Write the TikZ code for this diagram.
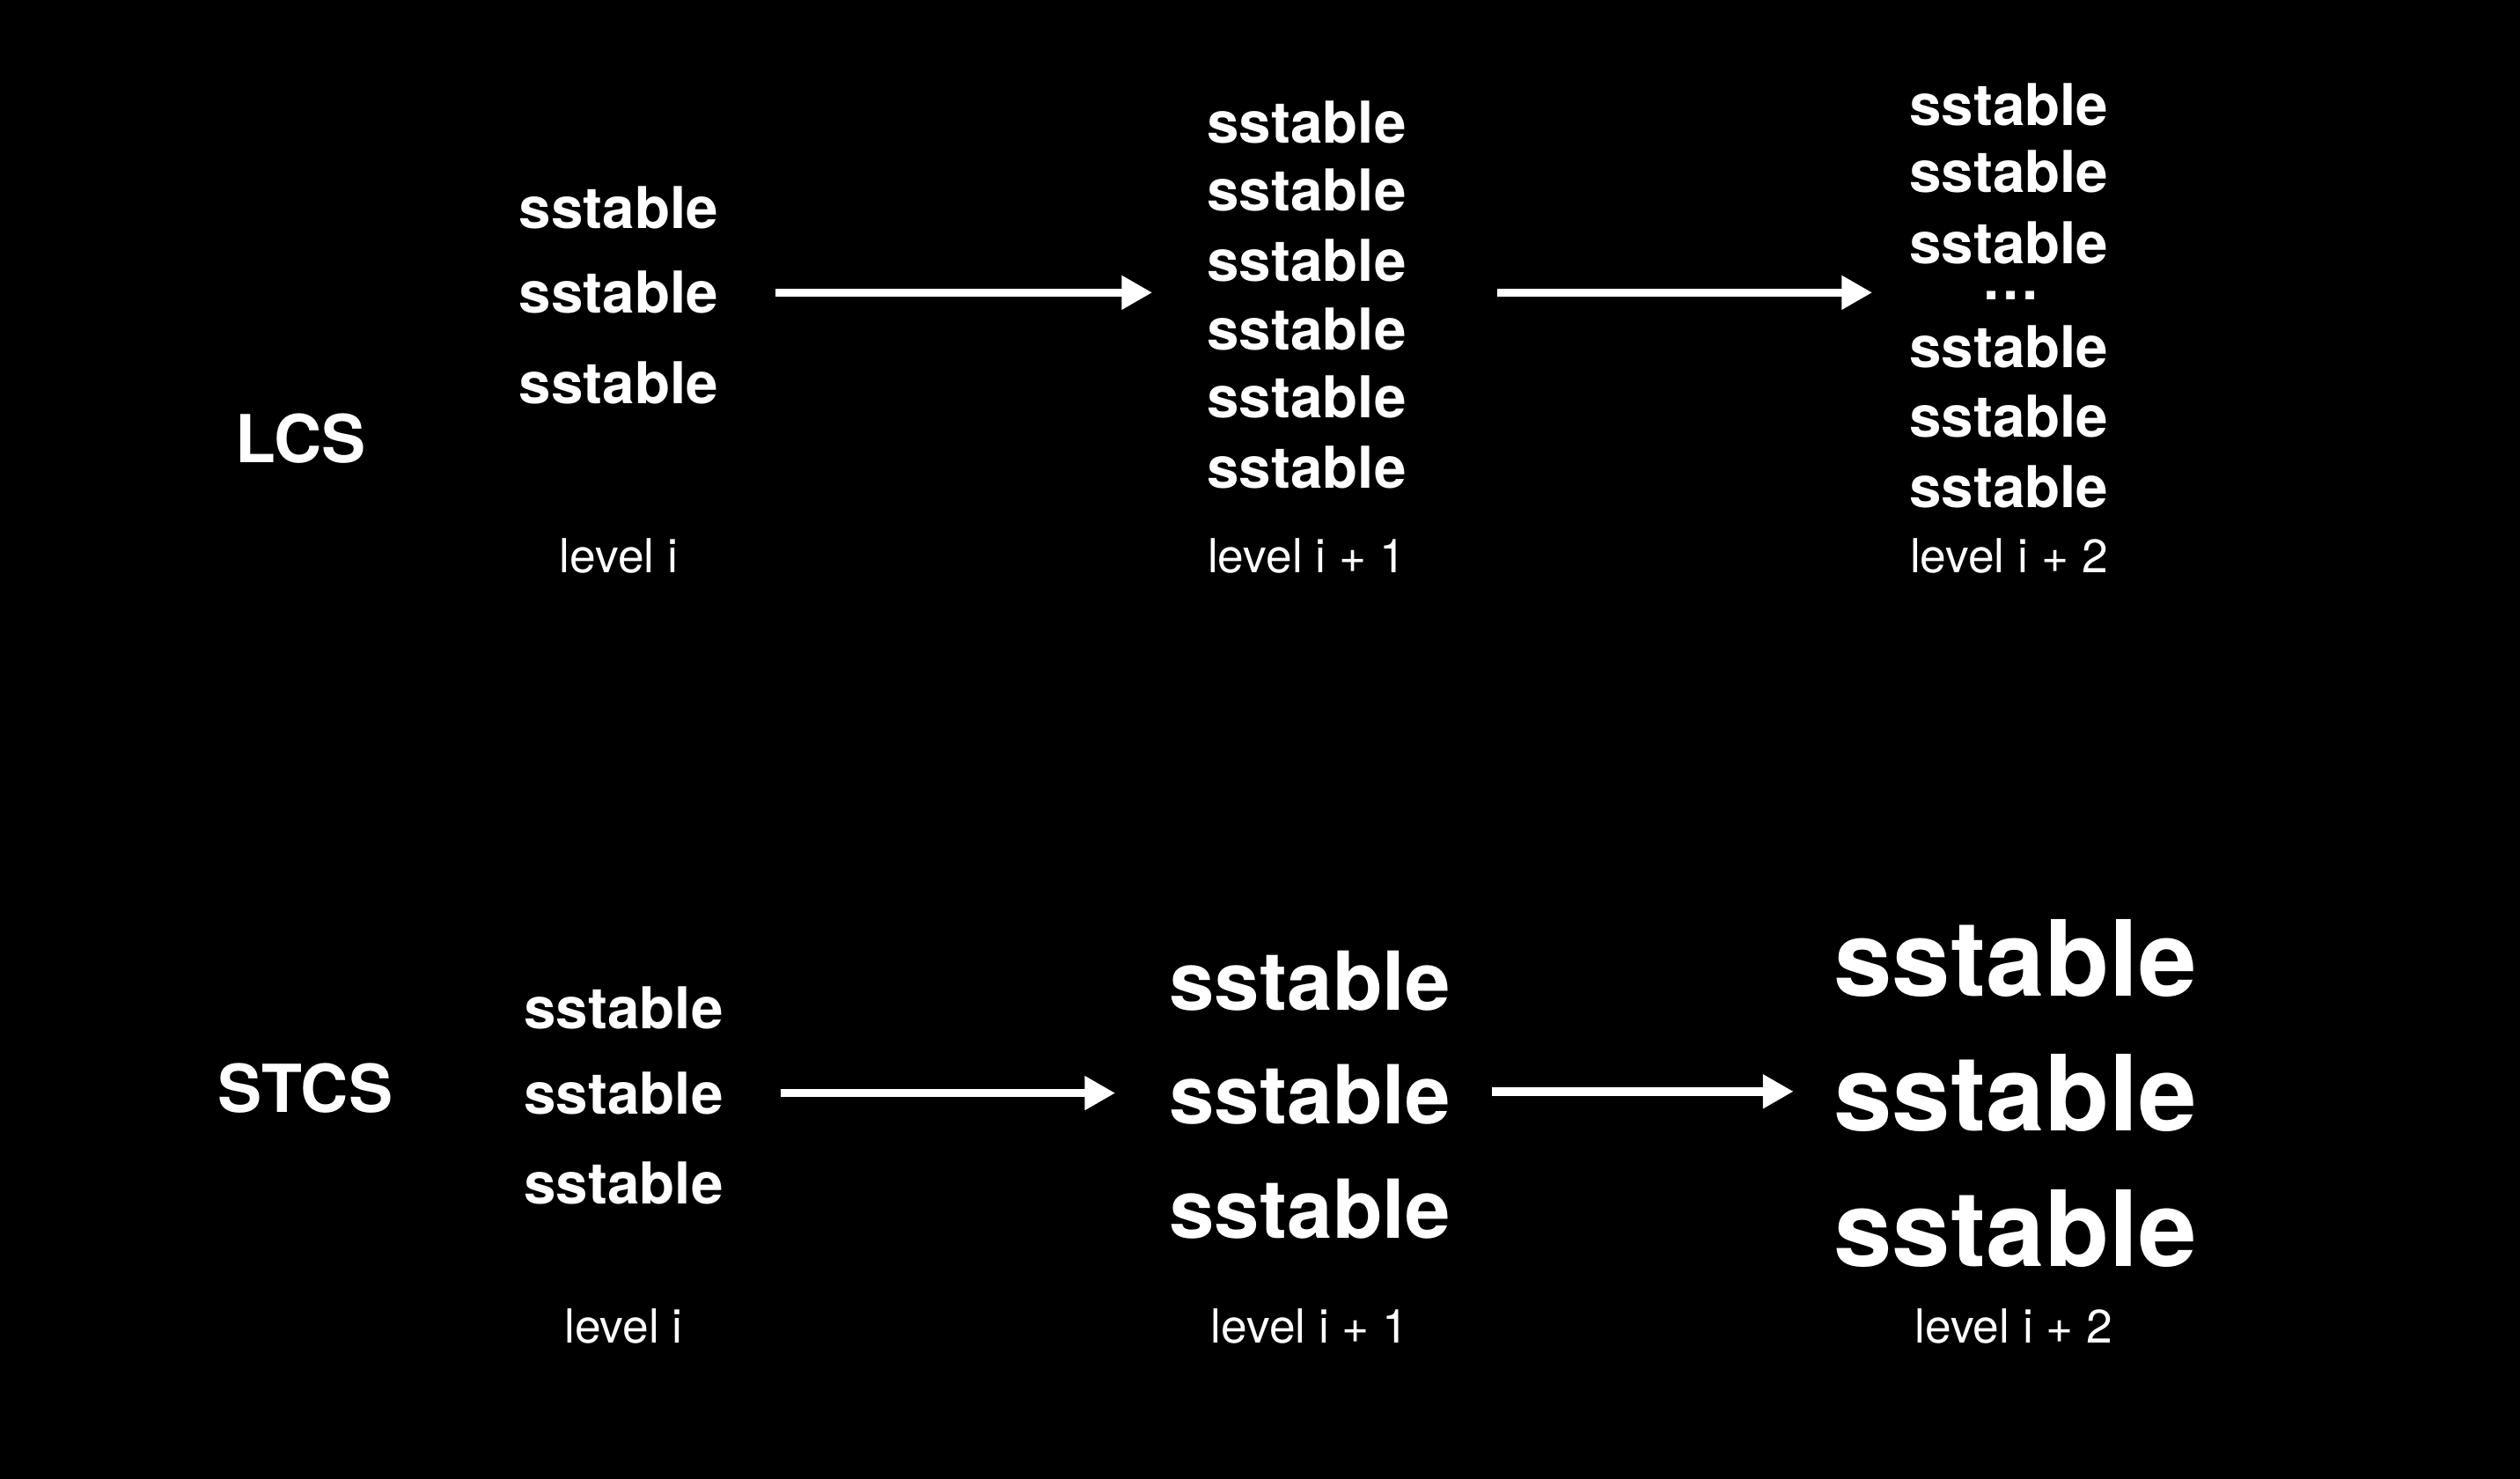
\documentclass[tikz,border=0pt]{standalone}
\usepackage{fontspec}
\setmainfont{TeX Gyre Heros}
\usetikzlibrary{arrows.meta}

\tikzset{
  tbl/.style={text=white, inner sep=0pt, font=\bfseries\fontsize{10.2}{12}\selectfont},
  tblmid/.style={tbl, font=\bfseries\fontsize{14.4}{17}\selectfont},
  tblbig/.style={tbl, font=\bfseries\fontsize{18.6}{22}\selectfont},
  strat/.style={text=white, inner sep=0pt, font=\bfseries\fontsize{11.7}{14}\selectfont},
  lvl/.style={text=white, inner sep=0pt, font=\fontsize{8.3}{10}\selectfont},
  flow/.style={draw=white, line width=1.5pt, -{Triangle[length=0.19cm,width=0.2cm]}}
}

\begin{document}
\begin{tikzpicture}[x=0.01cm,y=-0.01cm]
  \fill[black] (0,0) rectangle (1568,920);

  % LCS
  \node[strat] (lcs) at (187,273) {LCS};

  \node[tbl] (La1) at (385,129) {sstable};
  \node[tbl] (La2) at (385,182) {sstable};
  \node[tbl] (La3) at (385,238) {sstable};
  \node[lvl] (La)  at (385,346) {level i};

  \node[tbl] (Lb1) at (813,76)  {sstable};
  \node[tbl] (Lb2) at (813,118) {sstable};
  \node[tbl] (Lb3) at (813,162) {sstable};
  \node[tbl] (Lb4) at (813,205) {sstable};
  \node[tbl] (Lb5) at (813,247) {sstable};
  \node[tbl] (Lb6) at (813,291) {sstable};
  \node[lvl] (Lb)  at (813,346) {level i + 1};

  \node[tbl] (Lc1) at (1250,65)  {sstable};
  \node[tbl] (Lc2) at (1250,107) {sstable};
  \node[tbl] (Lc3) at (1250,151) {sstable};
  \node[tbl] (Lcd) at (1251,184) {.\kern0.6pt.\kern0.6pt.};
  \node[tbl] (Lc4) at (1250,216) {sstable};
  \node[tbl] (Lc5) at (1250,259) {sstable};
  \node[tbl] (Lc6) at (1250,303) {sstable};
  \node[lvl] (Lc)  at (1250,346) {level i + 2};

  \coordinate (Lab) at (717,182);
  \coordinate (Lbc) at (1165,182);
  \draw[flow] ([xshift=0.35cm]La2.east) -- (Lab);
  \draw[flow] ([xshift=0.56cm]Lbc -| Lb4.east) -- (Lbc);

  % STCS
  \node[strat] (stcs) at (190,677) {STCS};

  \node[tbl] (Sa1) at (388,627) {sstable};
  \node[tbl] (Sa2) at (388,680) {sstable};
  \node[tbl] (Sa3) at (388,736) {sstable};
  \node[lvl] (Sa)  at (388,825) {level i};

  \node[tblmid] (Sb1) at (815,610) {sstable};
  \node[tblmid] (Sb2) at (815,681) {sstable};
  \node[tblmid] (Sb3) at (815,752) {sstable};
  \node[lvl]    (Sb)  at (815,825) {level i + 1};

  \node[tblbig] (Sc1) at (1254,596) {sstable};
  \node[tblbig] (Sc2) at (1254,680) {sstable};
  \node[tblbig] (Sc3) at (1254,764) {sstable};
  \node[lvl]    (Sc)  at (1253,825) {level i + 2};

  \coordinate (Sab) at (694,680);
  \coordinate (Sbc) at (1116,679);
  \draw[flow] ([xshift=0.35cm]Sa2.east) -- (Sab);
  \draw[flow] ([xshift=0.25cm]Sbc -| Sb2.east) -- (Sbc);
\end{tikzpicture}
\end{document}
